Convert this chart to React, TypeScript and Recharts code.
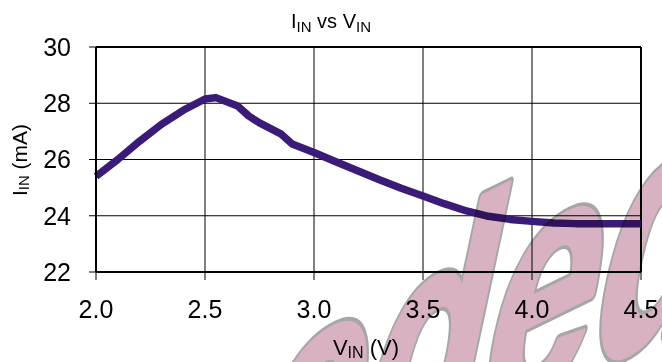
import * as React from "react";
import {
  LineChart,
  Line,
  XAxis,
  YAxis,
  CartesianGrid,
  ReferenceLine,
  Customized,
} from "recharts";

// supply voltage (V) and input current (mA)
const vin = [
  2.0, 2.1, 2.2, 2.3, 2.4, 2.5, 2.55, 2.65, 2.7, 2.75, 2.85, 2.9, 3.0, 3.1, 3.2,
  3.3, 3.4, 3.5, 3.6, 3.7, 3.8, 3.9, 4.0, 4.1, 4.2, 4.3, 4.4, 4.5,
];
const iin = [
  25.4, 26.0, 26.65, 27.25, 27.75, 28.15, 28.2, 27.9, 27.55, 27.3, 26.9, 26.55,
  26.25, 25.92, 25.6, 25.28, 24.98, 24.7, 24.42, 24.17, 23.98, 23.87, 23.8,
  23.74, 23.72, 23.72, 23.72, 23.72,
];
const xTicks = [2.0, 2.5, 3.0, 3.5, 4.0, 4.5];
const yTicks = [22, 24, 26, 28, 30];

const data = vin.map((v, i) => ({ v, i: iin[i] }));

const FONT = "'Liberation Sans', Arial, sans-serif";
const LINE_COLOR = "#3a1b78";

function Labels() {
  return (
    <g fontFamily={FONT} fill="#000">
      <text x={331} y={28} textAnchor="middle" fontSize={20}>
        I<tspan fontSize={15} dy={4}>IN</tspan>
        <tspan dy={-4}> vs V</tspan>
        <tspan fontSize={15} dy={4}>IN</tspan>
      </text>
      <text x={366} y={355} textAnchor="middle" fontSize={22}>
        V<tspan fontSize={16} dy={3}>IN</tspan>
        <tspan dy={-3}> (V)</tspan>
      </text>
      <text transform="translate(27,160) rotate(-90)" textAnchor="middle" fontSize={21}>
        I<tspan fontSize={15} dy={2}>IN</tspan>
        <tspan dy={-2}> (mA)</tspan>
      </text>
    </g>
  );
}

// pink "Superseded" stamp, only its tail shows in the bottom-right corner
function Watermark() {
  const t = "translate(705,314) rotate(-26) skewX(-38) scale(0.8,1)";
  return (
    <svg
      width={662}
      height={362}
      style={{ position: "absolute", top: 0, left: 0, mixBlendMode: "multiply", pointerEvents: "none" }}
    >
      <g fontFamily={FONT} fontWeight="bold" fontSize={280} textAnchor="end">
        <text transform={t} fill="#a6a6a6" stroke="#a6a6a6" strokeWidth={11} strokeLinejoin="round">
          Superseded
        </text>
        <text transform={t} fill="#d8b2c2" stroke="#d8b2c2" strokeWidth={5} strokeLinejoin="round">
          Superseded
        </text>
      </g>
    </svg>
  );
}

export default function App() {
  const tickStyle = { fontFamily: FONT, fontSize: 25, fill: "#000" };
  return (
    <div style={{ position: "absolute", top: 0, left: 0, width: 662, height: 362, background: "#fff" }}>
      <LineChart width={662} height={362} data={data} margin={{ top: 47, right: 21, bottom: 60, left: 36 }}>
        <CartesianGrid stroke="#000" strokeWidth={1} />
        <XAxis
          dataKey="v"
          type="number"
          domain={[2, 4.5]}
          ticks={xTicks}
          tickFormatter={(x: number) => x.toFixed(1)}
          height={30}
          tickSize={8}
          tickMargin={20}
          axisLine={{ stroke: "#000", strokeWidth: 2 }}
          tickLine={{ stroke: "#000", strokeWidth: 1 }}
          tick={tickStyle}
          interval={0}
        />
        <YAxis
          type="number"
          domain={[22, 30]}
          ticks={yTicks}
          width={60}
          tickSize={7}
          tickMargin={18}
          axisLine={{ stroke: "#000", strokeWidth: 2 }}
          tickLine={{ stroke: "#000", strokeWidth: 1 }}
          tick={tickStyle}
          interval={0}
        />
        <ReferenceLine y={30} stroke="#000" strokeWidth={2} />
        <ReferenceLine x={4.5} stroke="#000" strokeWidth={2} />
        <Line
          type="linear"
          dataKey="i"
          stroke={LINE_COLOR}
          strokeWidth={7.5}
          strokeLinecap="butt"
          strokeLinejoin="round"
          dot={false}
          isAnimationActive={false}
        />
        <Customized component={Labels} />
      </LineChart>
      <Watermark />
    </div>
  );
}
